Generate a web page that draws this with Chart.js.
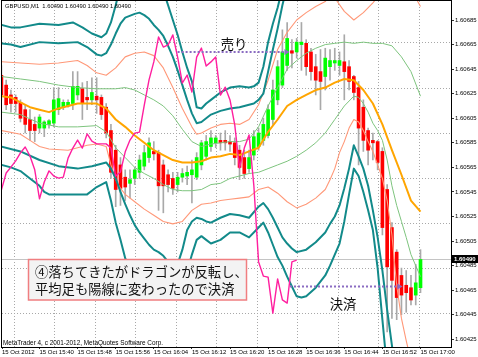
<!DOCTYPE html>
<html lang="ja"><head><meta charset="utf-8"><title>GBPUSD M1</title>
<script src="https://cdn.jsdelivr.net/npm/chart.js@4.4.1/dist/chart.umd.min.js"></script>
<style>html,body{margin:0;padding:0;background:#fff;overflow:hidden}canvas{display:block}</style>
</head><body>
<canvas id="chart" width="478" height="357"></canvas>
<script>
// ---------- DATA ----------
const symbolName = 'GBPUSD,M1';
const lastQuote = [1.60490, 1.60490, 1.60490, 1.60490];
const copyrightText = 'MetaTrader 4, c 2001-2012, MetaQuotes Software Corp.';
const firstDateLabel = '15 Oct 2012';
const timeTickMinutes = [40,48,56,64,72,80,88,96,104,112,120];
const timeTickLabels = ['15 Oct 15:40','15 Oct 15:48','15 Oct 15:56','15 Oct 16:04','15 Oct 16:12','15 Oct 16:20','15 Oct 16:28','15 Oct 16:36','15 Oct 16:44','15 Oct 16:52','15 Oct 17:00'];
const priceTicks = [1.60425,1.60445,1.60465,1.60485,1.60505,1.60525,1.60545,1.60565,1.60585,1.60605,1.60625,1.60645,1.60665,1.60685];
const gridMinutes = [34.43,43.88,53.33,62.78,72.23,81.68,91.13,100.58,110.03,119.48];
const gridPrices = [1.6066629,1.6062964,1.6059300,1.6055635,1.6051971,1.6048307,1.6044642];

// bars: minutes after 15:00
const barMinutes = [32,33,34,35,36,37,38,39,40,41,42,43,44,45,46,47,48,49,50,51,52,53,54,55,56,57,58,59,60,61,62,63,64,65,66,67,68,69,70,71,72,73,74,75,76,77,78,79,80,81,82,83,84,85,86,87,88,89,90,91,92,93,94,95,96,97,98,99,100,101,102,103,104,105,106,107,108,109,110,111,112,113,114,115,116,117,118,119,120];
const haOpen = [
1.60640,1.60632,1.60624,1.60622,1.60618,1.60612,1.60604,1.60600,1.60597,1.60597,
1.60600,1.60601,1.60612,1.60614,1.60615,1.60617,1.60624,1.60629,1.60622,1.60620,
1.60623,1.60622,1.60614,1.60595,1.60579,1.60567,1.60557,1.60552,1.60556,1.60561,
1.60566,1.60573,1.60578,1.60577,1.60567,1.60559,1.60556,1.60551,1.60557,1.60558,
1.60559,1.60557,1.60567,1.60574,1.60582,1.60585,1.60587,1.60587,1.60586,1.60585,
1.60579,1.60573,1.60564,1.60575,1.60582,1.60587,1.60591,1.60604,1.60620,1.60632,
1.60648,1.60660,1.60659,1.60665,1.60666,1.60659,1.60647,1.60643,1.60639,1.60647,
1.60650,1.60648,1.60651,1.60647,1.60639,1.60630,1.60614,1.60595,1.60587,1.60586,
1.60578,1.60547,1.60516,1.60496,1.60477,1.60469,1.60467,1.60461,1.60467];
const haClose = [
1.60624,1.60616,1.60617,1.60617,1.60605,1.60600,1.60595,1.60595,1.60606,1.60602,
1.60603,1.60620,1.60621,1.60618,1.60618,1.60631,1.60631,1.60617,1.60620,1.60626,
1.60620,1.60608,1.60593,1.60561,1.60547,1.60548,1.60549,1.60555,1.60563,1.60571,
1.60577,1.60585,1.60576,1.60550,1.60550,1.60551,1.60548,1.60557,1.60560,1.60561,
1.60563,1.60573,1.60585,1.60586,1.60589,1.60589,1.60585,1.60585,1.60584,1.60573,
1.60565,1.60560,1.60573,1.60590,1.60593,1.60600,1.60612,1.60628,1.60647,1.60659,
1.60670,1.60658,1.60667,1.60667,1.60647,1.60643,1.60636,1.60635,1.60654,1.60652,
1.60652,1.60652,1.60643,1.60635,1.60626,1.60597,1.60587,1.60579,1.60585,1.60569,
1.60516,1.60484,1.60473,1.60459,1.60461,1.60463,1.60457,1.60471,1.60490];
const haHigh = [
1.60648,1.60636,1.60628,1.60624,1.60620,1.60616,1.60612,1.60606,1.60608,1.60603,
1.60604,1.60630,1.60630,1.60620,1.60620,1.60643,1.60643,1.60634,1.60635,1.60638,
1.60638,1.60624,1.60617,1.60600,1.60583,1.60573,1.60563,1.60563,1.60565,1.60575,
1.60583,1.60589,1.60586,1.60579,1.60571,1.60563,1.60561,1.60561,1.60564,1.60566,
1.60571,1.60577,1.60587,1.60591,1.60595,1.60591,1.60593,1.60595,1.60591,1.60589,
1.60583,1.60579,1.60579,1.60595,1.60597,1.60605,1.60616,1.60636,1.60652,1.60677,
1.60683,1.60669,1.60670,1.60683,1.60669,1.60662,1.60657,1.60661,1.60662,1.60661,
1.60662,1.60659,1.60673,1.60652,1.60640,1.60635,1.60620,1.60597,1.60593,1.60587,
1.60581,1.60551,1.60520,1.60498,1.60483,1.60481,1.60477,1.60486,1.60498];
const haLow = [
1.60620,1.60612,1.60610,1.60610,1.60602,1.60593,1.60587,1.60586,1.60593,1.60590,
1.60597,1.60598,1.60608,1.60612,1.60614,1.60612,1.60620,1.60604,1.60612,1.60616,
1.60609,1.60604,1.60589,1.60556,1.60533,1.60534,1.60538,1.60540,1.60551,1.60556,
1.60563,1.60569,1.60571,1.60530,1.60528,1.60545,1.60543,1.60545,1.60553,1.60551,
1.60536,1.60555,1.60563,1.60571,1.60578,1.60581,1.60579,1.60579,1.60578,1.60567,
1.60555,1.60556,1.60561,1.60571,1.60579,1.60583,1.60589,1.60600,1.60616,1.60630,
1.60644,1.60646,1.60654,1.60644,1.60640,1.60636,1.60624,1.60612,1.60628,1.60636,
1.60644,1.60640,1.60620,1.60628,1.60620,1.60567,1.60578,1.60567,1.60571,1.60563,
1.60510,1.60431,1.60442,1.60441,1.60445,1.60447,1.60453,1.60453,1.60463];

// moving average (orange)
const maBars = [32,34,36,38,40,42,44,46,48,50,52,54,56,58,60,62,64,66,68,70,72,74,76,78,80,82,84,86,88,90,92,94,96,98,100,102,104,106,108,110,112,114,116,118,120];
const maVals = [1.60623,1.60622,1.60618,1.60614,1.60612,1.60610,1.60613,1.60615,1.60617,1.60617,1.60617,1.60613,1.60604,1.60598,1.60591,1.60585,1.60579,1.60575,1.60571,1.60569,1.60569,1.60570,1.60573,1.60574,1.60576,1.60575,1.60578,1.60581,1.60594,1.60604,1.60615,1.60620,1.60624,1.60628,1.60630,1.60634,1.60637,1.60636,1.60628,1.60617,1.60600,1.60579,1.60559,1.60538,1.60529];
// inner band (green)
const g1UpBars = [32,36,40,44,48,52,56,58,60,62,64,66,68,70,72,74,76,78,80,82,84,86,88,90,92,94,96,98,100,102,104,106,108,110,112,114,116,118,120];
const g1UpVals = [1.60639,1.60637,1.60635,1.60632,1.60630,1.60629,1.60629,1.60630,1.60628,1.60624,1.60620,1.60615,1.60607,1.60596,1.60586,1.60582,1.60584,1.60585,1.60586,1.60586,1.60588,1.60598,1.60615,1.60630,1.60645,1.60652,1.60658,1.60662,1.60665,1.60666,1.60667,1.60666,1.60667,1.60666,1.60666,1.60664,1.60655,1.60643,1.60623];
const g1DnBars = [32,36,40,44,48,52,54,56,58,60,62,64,66,68,70,72,74,76,78,80,82,84,86,88,90,92,94,96,98,100,102,104,106,107,108,109,110,111,112,113,114,115,116,117,118,119,120];
const g1DnVals = [1.60610,1.60608,1.60601,1.60598,1.60598,1.60599,1.60594,1.60581,1.60573,1.60565,1.60560,1.60556,1.60551,1.60547,1.60546,1.60546,1.60547,1.60551,1.60552,1.60556,1.60558,1.60560,1.60561,1.60564,1.60567,1.60570,1.60574,1.60579,1.60585,1.60593,1.60604,1.60615,1.60623,1.60622,1.60617,1.60610,1.60601,1.60595,1.60587,1.60571,1.60550,1.60534,1.60521,1.60508,1.60494,1.60485,1.60476];
// second band (salmon)
const g2UpBars = [32,36,40,44,46,48,50,52,54,56,58,60,62,64,66,68,70,72,73,74,76,78,80,82,84,86,88,90,92,94,96,98,100,101,102,104,106,108,110,112,114,116,118,119,120];
const g2UpVals = [1.60651,1.60650,1.60649,1.60650,1.60651,1.60652,1.60648,1.60642,1.60640,1.60646,1.60655,1.60658,1.60659,1.60656,1.60646,1.60630,1.60613,1.60598,1.60592,1.60593,1.60597,1.60600,1.60601,1.60600,1.60604,1.60616,1.60636,1.60661,1.60675,1.60685,1.60691,1.60696,1.60700,1.60705,1.60703,1.60692,1.60685,1.60691,1.60699,1.60708,1.60718,1.60719,1.60709,1.60703,1.60696];
const g2DnBars = [32,36,38,40,42,46,48,50,52,54,55,56,57,58,60,62,64,66,68,70,72,74,76,78,80,82,84,86,88,90,92,94,96,98,100,101,102,103,104,105,106,107,108,109,110,111,112,113,114,115,116,117,118,119,120];
const g2DnVals = [1.60595,1.60592,1.60587,1.60582,1.60580,1.60579,1.60581,1.60583,1.60584,1.60582,1.60567,1.60555,1.60548,1.60543,1.60537,1.60531,1.60526,1.60521,1.60519,1.60521,1.60530,1.60535,1.60536,1.60538,1.60539,1.60540,1.60541,1.60547,1.60549,1.60544,1.60537,1.60532,1.60535,1.60540,1.60547,1.60555,1.60564,1.60577,1.60586,1.60597,1.60604,1.60602,1.60595,1.60586,1.60578,1.60567,1.60556,1.60538,1.60510,1.60469,1.60442,1.60424,1.60407,1.60388,1.60369];
// outer bands (teal)
const t1Bars = [32,34,36,40,44,47,49,51,53,54,55,56,57,58,60,62,64,66,67,68,69,70,71,72,73,74,75,76,78,80,82,84,85,86,87,88,89,90,91,92];
const t1Vals = [1.60681,1.60679,1.60679,1.60682,1.60681,1.60683,1.60679,1.60674,1.60671,1.60674,1.60683,1.60697,1.60713,1.60730,1.60742,1.60746,1.60738,1.60709,1.60697,1.60685,1.60673,1.60659,1.60646,1.60635,1.60614,1.60613,1.60617,1.60620,1.60626,1.60630,1.60631,1.60630,1.60631,1.60634,1.60647,1.60667,1.60682,1.60695,1.60711,1.60730];
const t2Bars = [32,34,36,40,44,48,50,52,53,54,55,56,57,58,60,61,62,63,64,65,66,67,68,69,70,71,72,73,74,75,76,78,80,82,84,85,86,87,88,89,90,91,92];
const t2Vals = [1.60666,1.60665,1.60663,1.60667,1.60666,1.60667,1.60663,1.60657,1.60656,1.60658,1.60665,1.60674,1.60682,1.60687,1.60690,1.60691,1.60689,1.60686,1.60681,1.60677,1.60672,1.60664,1.60655,1.60644,1.60632,1.60620,1.60609,1.60601,1.60602,1.60605,1.60608,1.60611,1.60613,1.60614,1.60616,1.60617,1.60620,1.60625,1.60643,1.60661,1.60678,1.60697,1.60713];
const t3Bars = [32,36,40,44,48,51,53,54,55,56,57,58,59,60,61,62,63,64,65,66,67,68,69,70,71,72,73,74,75,76,78,80,82,84,86,87,88,89,90,91,92,93,94,96,98,100,101,102,103,104,105,106,107,108,109,110,111,112,113,114,115,116];
const t3Vals = [1.60582,1.60578,1.60571,1.60566,1.60564,1.60566,1.60568,1.60569,1.60564,1.60556,1.60545,1.60535,1.60526,1.60518,1.60512,1.60507,1.60502,1.60498,1.60496,1.60493,1.60488,1.60485,1.60486,1.60498,1.60514,1.60521,1.60524,1.60523,1.60521,1.60520,1.60524,1.60527,1.60526,1.60524,1.60533,1.60536,1.60531,1.60524,1.60516,1.60508,1.60503,1.60499,1.60496,1.60498,1.60504,1.60512,1.60519,1.60525,1.60534,1.60548,1.60564,1.60583,1.60574,1.60564,1.60550,1.60530,1.60508,1.60481,1.60449,1.60420,1.60392,1.60367];
const t4Bars = [32,34,36,38,40,41,42,44,48,50,51,52,53,54,55,56,57,58,60,62,64,66,68,70,71,72,73,74,75,76,78,80,82,84,86,87,88,89,90,91,92,93,94,95,96,98,100,101,102,103,104,105,106,107,108,109,110,111,112,113];
const t4Vals = [1.60567,1.60565,1.60562,1.60556,1.60550,1.60545,1.60543,1.60543,1.60543,1.60543,1.60546,1.60549,1.60551,1.60553,1.60538,1.60520,1.60506,1.60491,1.60475,1.60467,1.60464,1.60461,1.60460,1.60465,1.60480,1.60494,1.60506,1.60509,1.60506,1.60503,1.60506,1.60512,1.60512,1.60508,1.60516,1.60520,1.60512,1.60502,1.60492,1.60485,1.60476,1.60468,1.60460,1.60459,1.60460,1.60467,1.60477,1.60485,1.60494,1.60503,1.60521,1.60543,1.60564,1.60558,1.60545,1.60530,1.60514,1.60483,1.60441,1.60400];
// "dragon" oscillator (pink), own 0-100 scale
const dragonBars = [32,33,34,35,36,37,38,39,40,41,42,43,44,45,46,47,48,49,50,51,52,53,54,55,56,57,58,59,60,61,62,63,64,65,66,67,68,69,70,71,72,73,74,75,76,77,78,79,80,81,82,83,84,85,86,87,88,89,90,91,92,93,94];
const dragonVals = [45.4,50.3,52.0,53.8,56.1,57.8,55.2,51.2,42.8,47.7,50.9,49.4,48.8,49.1,54.6,57.5,59.8,57.5,61.6,59.5,58.7,58.7,58.7,57.5,49.4,50.6,56.4,59.8,61.8,62.1,69.9,77.2,82.4,89.6,86.7,87.3,90.2,83.8,76.3,78.6,73.7,83.8,86.4,81.2,82.4,83.8,72.8,75.1,71.4,64.2,51.7,57.5,61.3,46.8,24.6,20.5,20.2,9.8,19.7,13.6,12.7,24.6,25.1];
// trade marks
const sellSpan = [69.0, 91.8];
const sellPrice = 1.60659;
const exitSpan = [92.6, 115.5];
const exitPrice = 1.60468;
const sellLabel = '売り';
const exitLabel = '決済';
const noteLines = ['④落ちてきたがドラゴンが反転し、', '平均足も陽線に変わったので決済'];

// ---------- CHART ----------
const X_MIN = 32.126, X_MAX = 126.404;
const Y_MIN = 1.6041874, Y_MAX = 1.6070049;
const AXIS_FONT = "'Liberation Sans', Arial, sans-serif";

function lineSet(label, xs, ys, color, width, order, axis) {
  return { type: 'line', label, data: xs.map((x, i) => ({ x, y: ys[i] })),
    borderColor: color, borderWidth: width, pointRadius: 0, tension: 0, fill: false,
    xAxisID: 'x', yAxisID: axis || 'y', order, clip: 0, borderJoinStyle: 'round' };
}
function tradeSet(label, span, price) {
  return { type: 'line', label, data: [{ x: span[0], y: price }, { x: span[1], y: price }],
    borderColor: '#8B6CC2', borderWidth: 2, borderDash: [2, 2], pointRadius: [0, 3.5],
    pointStyle: 'triangle', pointRotation: 90, pointBackgroundColor: '#8B6CC2', pointBorderWidth: 0,
    tension: 0, fill: false, xAxisID: 'x', yAxisID: 'y', order: 0, clip: 0 };
}

const datasets = [
  lineSet('Dragon', dragonBars, dragonVals, '#FF1F9F', 1.4, 1, 'y2'),
  lineSet('BB4 up', t1Bars, t1Vals, '#128A8A', 2, 2),
  lineSet('BB3 up', t2Bars, t2Vals, '#128A8A', 2, 2),
  lineSet('BB3 dn', t3Bars, t3Vals, '#128A8A', 2, 2),
  lineSet('BB4 dn', t4Bars, t4Vals, '#128A8A', 2, 2),
  lineSet('BB2 up', g2UpBars, g2UpVals, '#FF9878', 1.1, 2),
  lineSet('BB2 dn', g2DnBars, g2DnVals, '#FF9878', 1.1, 2),
  lineSet('BB1 up', g1UpBars, g1UpVals, '#7EC47E', 1, 2),
  lineSet('BB1 dn', g1DnBars, g1DnVals, '#7EC47E', 1, 2),
  lineSet('MA', maBars, maVals, '#FFA500', 2, 2),
  tradeSet('Sell', sellSpan, sellPrice),
  tradeSet('Exit', exitSpan, exitPrice),
  { type: 'bar', label: 'HA body', data: barMinutes.map((m, i) => ({ x: m, y: [haOpen[i], haClose[i]] })),
    backgroundColor: barMinutes.map((m, i) => haClose[i] >= haOpen[i] ? '#00FF00' : '#FF0000'),
    borderWidth: 0, barThickness: 3, minBarLength: 1, grouped: false, xAxisID: 'x', yAxisID: 'y', order: 5, clip: 0 },
  { type: 'bar', label: 'HA range', data: barMinutes.map((m, i) => ({ x: m, y: [haLow[i], haHigh[i]] })),
    backgroundColor: '#A9A9A9', borderWidth: 0, barThickness: 1, grouped: false, xAxisID: 'x', yAxisID: 'y', order: 6, clip: 0 }
];

const mtPlugin = {
  id: 'mt',
  beforeDatasetsDraw(chart) {
    const { ctx, chartArea: a, scales } = chart;
    const y = Math.round(scales.y.getPixelForValue(lastQuote[3])) + 0.5;
    ctx.save(); ctx.strokeStyle = '#C4C4C4'; ctx.lineWidth = 1;
    ctx.beginPath(); ctx.moveTo(a.left, y); ctx.lineTo(a.right, y); ctx.stroke(); ctx.restore();
  },
  afterDatasetsDraw(chart) {
    const { ctx } = chart;
    ctx.save();
    ctx.fillStyle = '#F3F3F3'; ctx.fillRect(28.5, 259.5, 218, 40.5);
    ctx.strokeStyle = '#F07E80'; ctx.lineWidth = 1.5; ctx.strokeRect(28.5, 259.5, 218, 40.5);
    ctx.fillStyle = '#111'; ctx.textBaseline = 'middle'; ctx.textAlign = 'left';
    ctx.font = "13.3px 'Noto Sans CJK JP'";
    ctx.fillText(noteLines[0], 35, 271.5);
    ctx.fillText(noteLines[1], 35, 289);
    ctx.textAlign = 'center';
    ctx.fillText(sellLabel, 234, 43.5);
    ctx.fillText(exitLabel, 343, 303.5);
    ctx.textAlign = 'left'; ctx.fillStyle = '#000';
    ctx.font = "5.8px " + AXIS_FONT;
    ctx.fillText(symbolName + '  ' + lastQuote.map(v => v.toFixed(5)).join(' '), 5, 6.5);
    ctx.font = "6.4px " + AXIS_FONT;
    ctx.fillText(copyrightText, 3, 343);
    ctx.restore();
  },
  afterDraw(chart) {
    const { ctx, chartArea: a, scales } = chart;
    ctx.save();
    ctx.strokeStyle = '#000'; ctx.lineWidth = 1;
    ctx.strokeRect(a.left - 0.5, a.top - 0.5, a.right - a.left + 1, a.bottom - a.top + 1);
    const y = scales.y.getPixelForValue(lastQuote[3]);
    ctx.fillStyle = '#000'; ctx.fillRect(a.right + 1, Math.round(y) - 4, chart.width - a.right - 1, 8);
    ctx.fillStyle = '#fff'; ctx.font = "bold 6px " + AXIS_FONT; ctx.textBaseline = 'middle';
    ctx.fillText(lastQuote[3].toFixed(5), a.right + 3, Math.round(y));
    ctx.restore();
  }
};

new Chart(document.getElementById('chart'), {
  type: 'bar',
  data: { datasets },
  options: {
    responsive: false, devicePixelRatio: 1, animation: false, events: [],
    layout: { padding: { left: 2, top: 1, right: 0, bottom: 0 }, autoPadding: false },
    plugins: { legend: { display: false }, tooltip: { enabled: false } },
    scales: {
      x: { type: 'linear', position: 'bottom', min: X_MIN, max: X_MAX, bounds: 'data', offset: false,
        grid: { drawOnChartArea: false, drawTicks: true, tickLength: 2, color: '#333', offset: false },
        border: { display: false },
        ticks: { autoSkip: false, maxRotation: 0, minRotation: 0, align: 'start', padding: 0, color: '#000',
          font: { family: AXIS_FONT, size: 6 },
          callback: (v, i) => i === 0 ? firstDateLabel : timeTickLabels[i - 1] },
        afterBuildTicks: s => { s.ticks = [{ value: X_MIN }].concat(timeTickMinutes.map(v => ({ value: v }))); },
        afterFit: s => { s.height = 10; s.paddingLeft = 0; s.paddingRight = 0; } },
      y: { type: 'linear', position: 'right', min: Y_MIN, max: Y_MAX, bounds: 'data', beginAtZero: false,
        grid: { drawOnChartArea: false, drawTicks: true, tickLength: 3, color: '#333' },
        border: { display: false },
        ticks: { autoSkip: false, padding: 1, color: '#000', font: { family: AXIS_FONT, size: 6 },
          callback: v => Number(v).toFixed(5) },
        afterBuildTicks: s => { s.ticks = priceTicks.map(v => ({ value: v })); },
        afterFit: s => { s.width = 27; s.paddingTop = 0; s.paddingBottom = 0; } },
      y2: { type: 'linear', display: false, min: 0, max: 100 },
      gx: { type: 'linear', position: 'top', min: X_MIN, max: X_MAX, bounds: 'data',
        grid: { drawOnChartArea: true, drawTicks: false, color: '#A8A8A8', lineWidth: 1 },
        border: { display: false, dash: [1, 2] }, ticks: { display: false },
        afterBuildTicks: s => { s.ticks = gridMinutes.map(v => ({ value: v })); },
        afterFit: s => { s.height = 0; s.paddingLeft = 0; s.paddingRight = 0; } },
      gy: { type: 'linear', position: 'left', min: Y_MIN, max: Y_MAX, bounds: 'data',
        grid: { drawOnChartArea: true, drawTicks: false, color: '#A8A8A8', lineWidth: 1 },
        border: { display: false, dash: [1, 2] }, ticks: { display: false },
        afterBuildTicks: s => { s.ticks = gridPrices.map(v => ({ value: v })); },
        afterFit: s => { s.width = 0; s.paddingTop = 0; s.paddingBottom = 0; } }
    }
  },
  plugins: [mtPlugin]
});
</script>
</body></html>
